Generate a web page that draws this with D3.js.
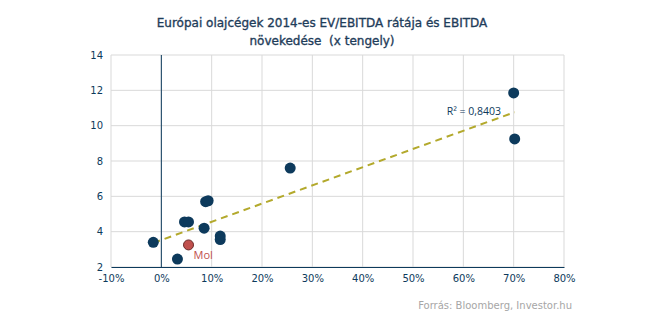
<!DOCTYPE html>
<html>
<head>
<meta charset="utf-8">
<script src="https://cdn.jsdelivr.net/npm/d3@7"></script>
<style>
  body { margin: 0; background: #fff; }
  text { font-family: "DejaVu Sans", Verdana, sans-serif; }
</style>
</head>
<body>
<div id="chart"></div>
<script>
var margin = { top: 55, right: 81, bottom: 58, left: 111 };
var width = 645 - margin.left - margin.right,
    height = 325 - margin.top - margin.bottom;

// EBITDA growth (%) and EV/EBITDA per company
var growth = [-1.6, 3.2, 4.6, 5.4, 8.5, 8.8, 9.3, 11.7, 11.7, 25.6, 70.0, 70.2];
var evEbitda = [3.4, 2.45, 4.55, 4.55, 4.2, 5.7, 5.75, 3.75, 3.55, 7.6, 11.85, 9.25];
var molGrowth = [5.4];
var molEv = [3.25];
var xTicks = [-10, 0, 10, 20, 30, 40, 50, 60, 70, 80];
var yTicks = [2, 4, 6, 8, 10, 12, 14];
var titleLines = ["Európai olajcégek 2014-es EV/EBITDA rátája és EBITDA", "növekedése  (x tengely)"];

var navy = "#0d3a5c";

var svg = d3.select("#chart").append("svg")
    .attr("width", 645).attr("height", 325);

var g = svg.append("g")
    .attr("transform", "translate(" + margin.left + "," + margin.top + ")");

var x = d3.scaleLinear().domain([-10, 80]).range([0, width]);
var y = d3.scaleLinear().domain([2, 14]).range([height, 0]);

// grid
g.append("g").selectAll("line").data(xTicks).enter().append("line")
    .attr("x1", function(d) { return x(d); }).attr("x2", function(d) { return x(d); })
    .attr("y1", 0).attr("y2", height)
    .attr("stroke", "#d9d9d9").attr("stroke-width", 1);
g.append("g").selectAll("line").data(yTicks).enter().append("line")
    .attr("x1", 0).attr("x2", width)
    .attr("y1", function(d) { return y(d); }).attr("y2", function(d) { return y(d); })
    .attr("stroke", "#d9d9d9").attr("stroke-width", 1);

// axes
var xAxis = d3.axisBottom(x).tickValues(xTicks).tickSize(0).tickPadding(8)
    .tickFormat(function(d) { return d + "%"; });
var yAxis = d3.axisLeft(y).tickValues(yTicks).tickSize(0).tickPadding(8);

var gx = g.append("g").attr("transform", "translate(0," + height + ")").call(xAxis);
gx.select(".domain").attr("stroke", navy);
gx.selectAll("text").attr("fill", navy).style("font-size", "10px")
    .style("font-family", "'DejaVu Sans', sans-serif");

var gy = g.append("g").call(yAxis);
gy.select(".domain").remove();
gy.selectAll("text").attr("fill", navy).style("font-size", "10px")
    .style("font-family", "'DejaVu Sans', sans-serif");

// vertical line at 0%
g.append("line")
    .attr("x1", x(0)).attr("x2", x(0)).attr("y1", 0).attr("y2", height)
    .attr("stroke", navy).attr("stroke-width", 1);

// linear trend over all companies incl. Mol
var xs = growth.concat(molGrowth), ys = evEbitda.concat(molEv);
var mx = d3.mean(xs), my = d3.mean(ys);
var sxy = d3.sum(xs, function(v, i) { return (v - mx) * (ys[i] - my); });
var sxx = d3.sum(xs, function(v) { return (v - mx) * (v - mx); });
var slope = sxy / sxx, icpt = my - slope * mx;
var x0 = d3.min(xs), x1 = d3.max(xs);

g.append("line")
    .attr("x1", x(x0)).attr("y1", y(icpt + slope * x0))
    .attr("x2", x(x1)).attr("y2", y(icpt + slope * x1))
    .attr("stroke", "#b3a92c").attr("stroke-width", 2)
    .attr("stroke-dasharray", "7,5");

g.append("text")
    .attr("x", x(56.7)).attr("y", y(10.6))
    .attr("fill", navy).style("font-size", "10.5px")
    .style("font-family", "'Open Sans', sans-serif")
    .text("R² = 0,8403");

// points
g.append("g").selectAll("circle")
    .data(growth).enter().append("circle")
    .attr("cx", function(d) { return x(d); })
    .attr("cy", function(d, i) { return y(evEbitda[i]); })
    .attr("r", 5.5)
    .attr("fill", navy);

g.append("g").selectAll("circle")
    .data(molGrowth).enter().append("circle")
    .attr("cx", function(d) { return x(d); })
    .attr("cy", function(d, i) { return y(molEv[i]); })
    .attr("r", 5)
    .attr("fill", "#c0504d").attr("stroke", "#6b2a28").attr("stroke-width", 1);

g.append("text")
    .attr("x", x(molGrowth[0]) + 5).attr("y", y(molEv[0]) + 14)
    .attr("fill", "#c0504d").style("font-size", "11px")
    .style("font-family", "'Open Sans', sans-serif")
    .text("Mol");

// title (keeps the double space)
svg.append("g").selectAll("text").data(titleLines).enter().append("text")
    .attr("x", 322).attr("y", function(d, i) { return 27 + i * 18; })
    .attr("text-anchor", "middle")
    .attr("fill", "#1f3d5a").attr("stroke", "#1f3d5a").attr("stroke-width", 0.35)
    .style("font-size", "12px").style("white-space", "pre")
    .text(function(d) { return d; });

// source
svg.append("text")
    .attr("x", 572).attr("y", 309).attr("text-anchor", "end")
    .attr("fill", "#a6a6a6").style("font-size", "10px")
    .text("Forrás: Bloomberg, Investor.hu");
</script>
</body>
</html>
